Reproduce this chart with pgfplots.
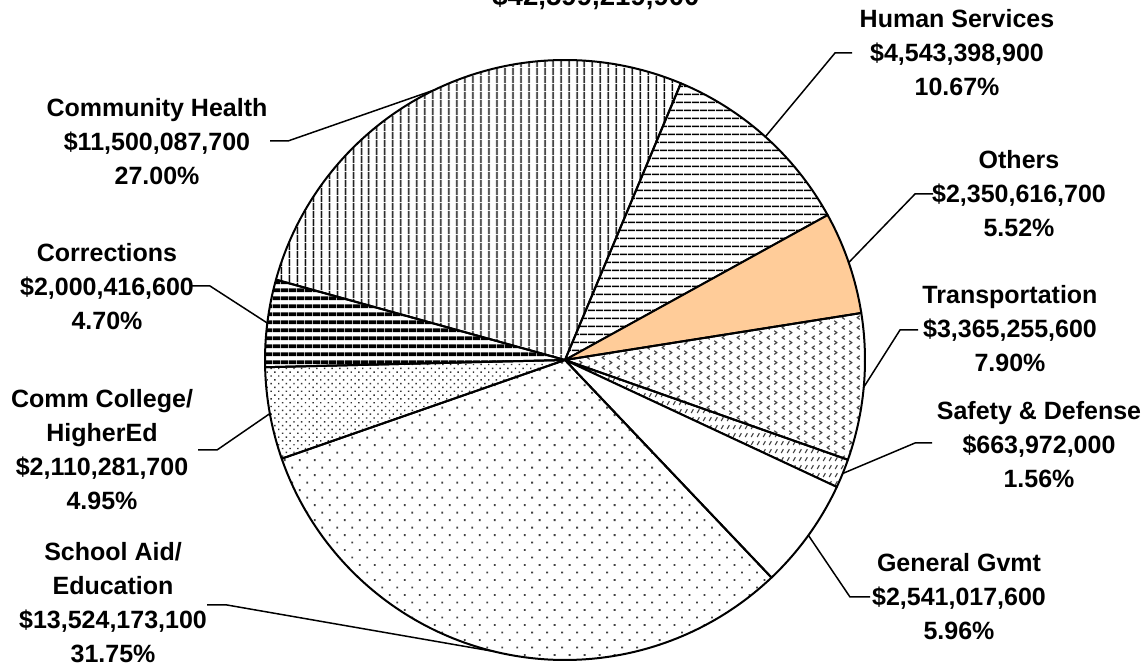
\documentclass[border=0pt]{standalone}
\usepackage{pgfplots}
\pgfplotsset{compat=1.18}
\usepackage{pgfplotstable}
\usepackage{fontspec}
\setmainfont{Liberation Sans}
\usetikzlibrary{patterns,patterns.meta}

% small chevrons for Transportation
\pgfdeclarepatternformonly{chevrons}{\pgfqpoint{-1pt}{-1pt}}{\pgfqpoint{8.5pt}{6pt}}{\pgfqpoint{7.5pt}{5pt}}{%
  \pgfsetlinewidth{0.55pt}
  \pgfpathmoveto{\pgfqpoint{2.4pt}{0.3pt}}
  \pgfpathlineto{\pgfqpoint{1.0pt}{1.2pt}}
  \pgfpathlineto{\pgfqpoint{2.4pt}{2.1pt}}
  \pgfpathmoveto{\pgfqpoint{4.6pt}{2.8pt}}
  \pgfpathlineto{\pgfqpoint{6.0pt}{3.7pt}}
  \pgfpathlineto{\pgfqpoint{4.6pt}{4.6pt}}
  \pgfusepath{stroke}
}
% short slashes for Safety & Defense
\pgfdeclarepatternformonly{slashes}{\pgfqpoint{-1pt}{-1pt}}{\pgfqpoint{4pt}{5pt}}{\pgfqpoint{3pt}{4pt}}{%
  \pgfsetlinewidth{0.55pt}
  \pgfpathmoveto{\pgfqpoint{0.6pt}{0.5pt}}
  \pgfpathlineto{\pgfqpoint{1.7pt}{2.4pt}}
  \pgfusepath{stroke}
}

% slices clockwise from the top: share in percent
\pgfplotstableread{
pct
10.67
5.52
7.90
1.56
5.96
31.75
4.95
4.70
27.00
}\slices

\definecolor{peach}{RGB}{255,204,153}
\tikzset{
  slice0/.style={pattern={Lines[angle=0,distance=4pt,line width=0.9pt]}},
  slice1/.style={fill=peach},
  slice2/.style={pattern=chevrons, pattern color=black!75},
  slice3/.style={pattern=slashes, pattern color=black!75},
  slice4/.style={fill=white},
  slice5/.style={pattern={Dots[angle=45,distance=5.3pt,radius=0.65pt]}, pattern color=black!75},
  slice6/.style={pattern={Dots[angle=45,distance=2.7pt,radius=0.5pt]}, pattern color=black!80},
  slice7/.style={pattern={Lines[angle=0,distance=3.85pt,line width=2pt]}},
  slice8/.style={pattern={Lines[angle=90,distance=4pt,line width=0.9pt]}},
  lbl/.style={align=center, inner sep=0pt, font=\fontsize{12.5}{17}\selectfont\bfseries},
  leader/.style={line width=0.75pt},
}

% cumulative angles
\xdef\cum{67.3}
\pgfplotstableforeachcolumnelement{pct}\of\slices\as\p{%
  \pgfmathsetmacro\b{\cum-3.6*\p}%
  \pgfmathsetmacro\m{(\cum+\b)/2}%
  \expandafter\xdef\csname sa\pgfplotstablerow\endcsname{\cum}%
  \expandafter\xdef\csname sb\pgfplotstablerow\endcsname{\b}%
  \expandafter\xdef\csname sm\pgfplotstablerow\endcsname{\m}%
  \xdef\cum{\b}%
}

\begin{document}
\begin{tikzpicture}
\useasboundingbox (0,0) rectangle (574pt,335pt);
\clip (0,0) rectangle (574pt,335pt);
\begin{axis}[
  hide axis, x=0.5pt, y=0.5pt,
  xmin=0, xmax=1148, ymin=0, ymax=670,
  anchor=south west, at={(0,0)}, clip=false,
]
  % pie slices
  \pgfplotsinvokeforeach{0,...,8}{
    \draw[slice#1, line width=1pt, line join=round]
      (axis cs:565,310) -- ([shift={(\csname sa#1\endcsname:150pt)}]axis cs:565,310)
      arc[start angle=\csname sa#1\endcsname, end angle=\csname sb#1\endcsname, radius=150pt]
      -- cycle;
  }

  % title (cut off at the top edge)
  \node[anchor=base, font=\fontsize{13.8}{17}\selectfont\bfseries] at (axis cs:596,664) {\$42,599,219,900};

  % labels
  \node[lbl] at (axis cs:957,617) {Human Services\\\$4,543,398,900\\10.67\%};
  \node[lbl] at (axis cs:1019,476) {Others\\\$2,350,616,700\\5.52\%};
  \node[lbl] at (axis cs:1010,341) {Transportation\\\$3,365,255,600\\7.90\%};
  \node[lbl] at (axis cs:1039,225) {Safety \& Defense\\\$663,972,000\\1.56\%};
  \node[lbl] at (axis cs:959,73) {General Gvmt\\\$2,541,017,600\\5.96\%};
  \node[lbl] at (axis cs:113,67) {School Aid/\\Education\\\$13,524,173,100\\31.75\%};
  \node[lbl] at (axis cs:102,220) {Comm College/\\HigherEd\\\$2,110,281,700\\4.95\%};
  \node[lbl] at (axis cs:107,383) {Corrections\\\$2,000,416,600\\4.70\%};
  \node[lbl] at (axis cs:157,528) {Community Health\\\$11,500,087,700\\27.00\%};

  % leader lines
  \draw[leader] (axis cs:852,617) -- (axis cs:835,617) -- ([shift={(\csname sm0\endcsname:150pt)}]axis cs:565,310);
  \draw[leader] (axis cs:933,476) -- (axis cs:915,476) -- ([shift={(\csname sm1\endcsname:150pt)}]axis cs:565,310);
  \draw[leader] (axis cs:918,340) -- (axis cs:900,340) -- ([shift={(\csname sm2\endcsname:150pt)}]axis cs:565,310);
  \draw[leader] (axis cs:932,227) -- (axis cs:915,227) -- ([shift={(\csname sm3\endcsname:150pt)}]axis cs:565,310);
  \draw[leader] (axis cs:870,73) -- (axis cs:850,73) -- ([shift={(\csname sm4\endcsname:150pt)}]axis cs:565,310);
  \draw[leader] (axis cs:207,65) -- (axis cs:227,65) -- ([shift={(\csname sm5\endcsname:150pt)}]axis cs:565,310);
  \draw[leader] (axis cs:198,220) -- (axis cs:217,220) -- ([shift={(\csname sm6\endcsname:150pt)}]axis cs:565,310);
  \draw[leader] (axis cs:192,384) -- (axis cs:210,384) -- ([shift={(\csname sm7\endcsname:150pt)}]axis cs:565,310);
  \draw[leader] (axis cs:270,529) -- (axis cs:288,529) -- ([shift={(\csname sm8\endcsname:150pt)}]axis cs:565,310);
\end{axis}
\end{tikzpicture}
\end{document}
